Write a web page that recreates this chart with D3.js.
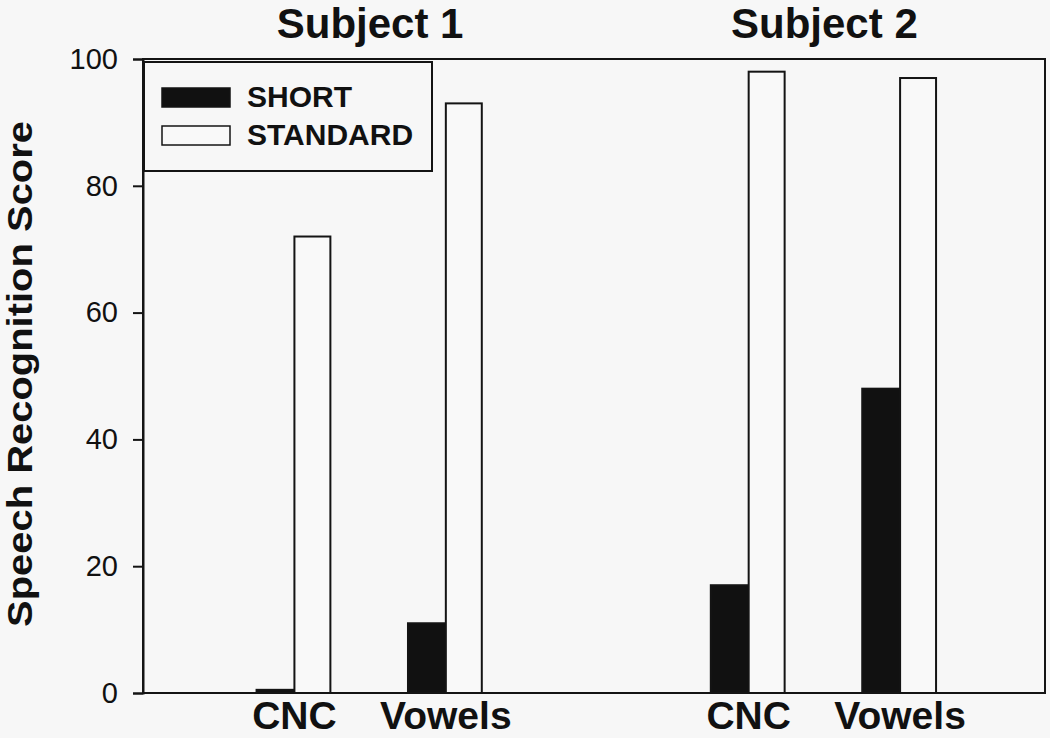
<!DOCTYPE html>
<html>
<head>
<meta charset="utf-8">
<script src="https://cdn.jsdelivr.net/npm/d3@7"></script>
<style>
  html, body { margin: 0; padding: 0; background: #f7f7f7; }
  svg { display: block; font-family: "Liberation Sans", Arial, sans-serif; }
</style>
</head>
<body>
<svg id="chart" width="1050" height="738"></svg>
<script>
// chart data
const subjects = ['Subject 1', 'Subject 2'];
const categories = ['CNC', 'Vowels', 'CNC', 'Vowels'];
const positions = [1, 2, 4, 5];
const subjectOf = [0, 0, 1, 1];
const shortScores = [0.5, 11, 17, 48];
const standardScores = [72, 93, 98, 97];
const yTicks = [0, 20, 40, 60, 80, 100];
const seriesNames = ['SHORT', 'STANDARD'];

const svg = d3.select('#chart');
const margin = { left: 143, right: 5, top: 59, bottom: 45 };
const W = 1050, H = 738;

const x = d3.scaleLinear()
  .domain([0, 5.957])
  .range([margin.left, W - margin.right]);
const y = d3.scaleLinear()
  .domain([0, 100])
  .range([H - margin.bottom, margin.top]);

const barW = x(0.25) - x(0);
const ink = '#141414';

// plot background frame
svg.append('rect')
  .attr('x', x(0)).attr('y', y(100))
  .attr('width', x.range()[1] - x(0))
  .attr('height', y(0) - y(100))
  .attr('fill', '#f7f7f7')
  .attr('stroke', ink)
  .attr('stroke-width', 2);

// bars
const rows = positions.map((p, i) => ({
  pos: p, short: shortScores[i], standard: standardScores[i]
}));

svg.selectAll('.bar-short')
  .data(rows)
  .enter().append('rect')
  .attr('class', 'bar-short')
  .attr('x', d => x(d.pos) - barW)
  .attr('y', d => y(d.short))
  .attr('width', barW)
  .attr('height', d => y(0) - y(d.short))
  .attr('fill', '#111')
  .attr('stroke', ink)
  .attr('stroke-width', 2);

svg.selectAll('.bar-standard')
  .data(rows)
  .enter().append('rect')
  .attr('class', 'bar-standard')
  .attr('x', d => x(d.pos))
  .attr('y', d => y(d.standard))
  .attr('width', barW * 0.95)
  .attr('height', d => y(0) - y(d.standard))
  .attr('fill', '#f9f9f9')
  .attr('stroke', ink)
  .attr('stroke-width', 2);

// y axis
const yAxis = d3.axisLeft(y)
  .tickValues(yTicks)
  .tickSize(10)
  .tickPadding(15)
  .tickFormat(d3.format('d'));

const yg = svg.append('g')
  .attr('transform', `translate(${x(0)},0)`)
  .call(yAxis);
yg.select('.domain').attr('stroke', ink).attr('stroke-width', 2);
yg.selectAll('.tick line').attr('stroke', ink).attr('stroke-width', 2);
yg.selectAll('.tick text')
  .attr('fill', '#111')
  .style('font-size', '29px')
  .style('font-family', '"Liberation Sans", Arial, sans-serif');

// category labels
svg.selectAll('.cat-label')
  .data(categories)
  .enter().append('text')
  .attr('class', 'cat-label')
  .attr('x', (d, i) => x(positions[i]))
  .attr('y', 729)
  .attr('text-anchor', 'middle')
  .style('font-size', '39px')
  .style('font-weight', 'bold')
  .attr('fill', '#111')
  .text(d => d);

// subject titles
svg.selectAll('.subject-title')
  .data(subjects)
  .enter().append('text')
  .attr('class', 'subject-title')
  .attr('x', (d, s) => {
    const p = positions.filter((_, i) => subjectOf[i] === s);
    return x(d3.mean(p));
  })
  .attr('y', 38)
  .attr('text-anchor', 'middle')
  .style('font-size', '42px')
  .style('font-weight', 'bold')
  .attr('fill', '#111')
  .text(d => d);

// y axis title
svg.append('text')
  .attr('transform', 'translate(32,374) rotate(-90)')
  .attr('text-anchor', 'middle')
  .attr('textLength', 506)
  .attr('lengthAdjust', 'spacingAndGlyphs')
  .style('font-size', '35px')
  .style('font-weight', 'bold')
  .attr('fill', '#111')
  .text('Speech Recognition Score');

// legend
const legend = svg.append('g');
legend.append('rect')
  .attr('x', 144).attr('y', 62)
  .attr('width', 288).attr('height', 109)
  .attr('fill', '#f7f7f7')
  .attr('stroke', ink)
  .attr('stroke-width', 2);

const legendFill = ['#111', '#f9f9f9'];
const legendItems = legend.selectAll('.legend-item')
  .data(seriesNames)
  .enter().append('g')
  .attr('class', 'legend-item')
  .attr('transform', (d, i) => `translate(162,${88 + i * 38})`);

legendItems.append('rect')
  .attr('width', 68).attr('height', 19)
  .attr('fill', (d, i) => legendFill[i])
  .attr('stroke', ink)
  .attr('stroke-width', 1.5);

legendItems.append('text')
  .attr('x', 85)
  .attr('y', 19)
  .style('font-size', '30px')
  .style('font-weight', 'bold')
  .attr('fill', '#111')
  .text(d => d);
</script>
</body>
</html>
